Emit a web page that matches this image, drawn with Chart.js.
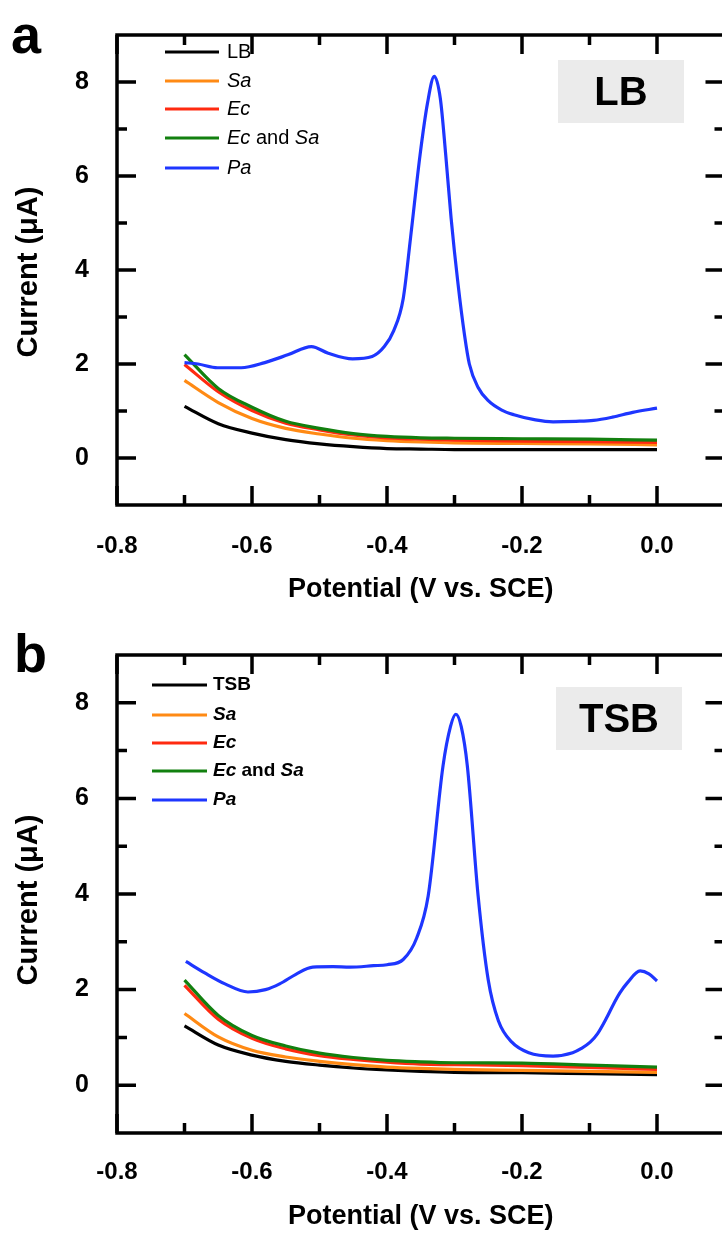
<!DOCTYPE html>
<html>
<head>
<meta charset="utf-8">
<script src="https://cdn.jsdelivr.net/npm/chart.js@4.4.0/dist/chart.umd.min.js"></script>
<style>
  html, body { margin: 0; padding: 0; background: #fff; overflow: hidden; }
  canvas { display: block; }
</style>
</head>
<body>
<canvas id="chartA" width="740" height="620"></canvas>
<canvas id="chartB" width="740" height="614"></canvas>
<script>
// potential (V vs. SCE) and current (uA)
const potBase = [-0.70, -0.65, -0.60, -0.55, -0.50, -0.45, -0.40, -0.35, -0.30, -0.20, -0.10, 0.00];

// panel a: LB medium
const lbBlank = [1.10, 0.73, 0.53, 0.39, 0.30, 0.24, 0.20, 0.19, 0.18, 0.18, 0.18, 0.18];
const lbSa    = [1.65, 1.18, 0.84, 0.63, 0.51, 0.42, 0.37, 0.34, 0.32, 0.31, 0.30, 0.28];
const lbEc    = [1.99, 1.41, 1.01, 0.74, 0.60, 0.49, 0.43, 0.40, 0.38, 0.36, 0.35, 0.33];
const lbEcSa  = [2.20, 1.48, 1.08, 0.78, 0.63, 0.52, 0.46, 0.43, 0.42, 0.41, 0.40, 0.38];
const potPaLB = [-0.700, -0.680, -0.651, -0.616, -0.581, -0.546, -0.512, -0.487, -0.451, -0.422,
                 -0.404, -0.390, -0.376, -0.365, -0.351, -0.340, -0.330, -0.321, -0.313, -0.305,
                 -0.295, -0.285, -0.278, -0.265, -0.250, -0.230, -0.212, -0.180, -0.154, -0.120,
                 -0.094, -0.066, -0.036, 0.000];
const lbPa    = [2.03, 2.00, 1.92, 1.92, 2.03, 2.20, 2.37, 2.23, 2.11, 2.16,
                 2.37, 2.71, 3.39, 4.70, 6.45, 7.55, 8.12, 7.65, 6.45, 5.10,
                 3.73, 2.60, 2.00, 1.50, 1.22, 1.02, 0.92, 0.81, 0.77, 0.78,
                 0.80, 0.87, 0.97, 1.06];

// panel b: TSB medium
const tsbBlank = [1.24, 0.84, 0.63, 0.50, 0.42, 0.36, 0.32, 0.29, 0.27, 0.26, 0.24, 0.22];
const tsbSa    = [1.50, 1.01, 0.73, 0.59, 0.50, 0.43, 0.38, 0.35, 0.33, 0.31, 0.29, 0.27];
const tsbEc    = [2.09, 1.38, 0.98, 0.76, 0.62, 0.54, 0.48, 0.44, 0.43, 0.41, 0.37, 0.33];
const tsbEcSa  = [2.20, 1.46, 1.04, 0.82, 0.67, 0.58, 0.52, 0.49, 0.47, 0.46, 0.42, 0.38];
const potPaTSB = [-0.698, -0.670, -0.640, -0.606, -0.580, -0.559, -0.535, -0.510, -0.480, -0.455,
                  -0.420, -0.400, -0.376, -0.356, -0.339, -0.317, -0.306, -0.298, -0.290, -0.281,
                  -0.265, -0.250, -0.235, -0.215, -0.190, -0.154, -0.125, -0.112, -0.099, -0.088,
                  -0.075, -0.065, -0.055, -0.044, -0.025, -0.012, 0.000];
const tsbPa    = [2.59, 2.35, 2.12, 1.95, 2.00, 2.12, 2.32, 2.47, 2.48, 2.47,
                  2.50, 2.52, 2.63, 3.08, 3.96, 6.68, 7.50, 7.76, 7.50, 6.68,
                  3.96, 2.20, 1.35, 0.90, 0.68, 0.61, 0.68, 0.77, 0.90, 1.08,
                  1.40, 1.68, 1.93, 2.14, 2.39, 2.33, 2.18];

const labelsLB  = ['LB', 'Sa', 'Ec', 'Ec and Sa', 'Pa'];
const labelsTSB = ['TSB', 'Sa', 'Ec', 'Ec and Sa', 'Pa'];
const italicWords = ['Sa', 'Ec', 'Pa'];

const xMajorTicks = [-0.8, -0.6, -0.4, -0.2, 0.0];
const xMinorTicks = [-0.7, -0.5, -0.3, -0.1];
const yMajorTicks = [0, 2, 4, 6, 8];
const yMinorTicks = [1, 3, 5, 7];

const colors = ['#000000', '#ff8a14', '#ff2a10', '#12800f', '#1e36ff'];
const FONT = '"Liberation Sans", Arial, sans-serif';

function toPoints(xs, ys) {
  return xs.map((v, i) => ({ x: v, y: ys[i] }));
}

const framePlugin = {
  id: 'frame',
  afterDatasetsDraw(chart, args, o) {
    const { ctx, chartArea: a, scales: { x, y } } = chart;
    ctx.save();
    ctx.strokeStyle = '#000';
    ctx.lineWidth = 3.5;
    ctx.strokeRect(a.left, a.top, a.right - a.left, a.bottom - a.top);

    // inward ticks on all four sides
    ctx.beginPath();
    const xt = (vals, len) => vals.forEach(v => {
      const p = x.getPixelForValue(v);
      ctx.moveTo(p, a.bottom); ctx.lineTo(p, a.bottom - len);
      ctx.moveTo(p, a.top); ctx.lineTo(p, a.top + len);
    });
    const yt = (vals, len) => vals.forEach(v => {
      const p = y.getPixelForValue(v);
      ctx.moveTo(a.left, p); ctx.lineTo(a.left + len, p);
      ctx.moveTo(a.right, p); ctx.lineTo(a.right - len, p);
    });
    xt(xMajorTicks, 19); xt(xMinorTicks, 10);
    yt(yMajorTicks, 19); yt(yMinorTicks, 10);
    ctx.stroke();

    // legend
    chart.data.datasets.forEach((ds, i) => {
      const ry = o.legend.rows[i];
      ctx.strokeStyle = ds.borderColor;
      ctx.lineWidth = 3;
      ctx.beginPath();
      ctx.moveTo(o.legend.x1, ry); ctx.lineTo(o.legend.x2, ry);
      ctx.stroke();
      let cx = o.legend.tx;
      ctx.fillStyle = '#000';
      ctx.textBaseline = 'middle';
      ctx.textAlign = 'left';
      ds.label.split(' ').forEach(word => {
        const it = italicWords.includes(word);
        ctx.font = (it ? 'italic ' : '') + o.legend.weight + ' ' + o.legend.size + 'px ' + FONT;
        ctx.fillText(word, cx, ry);
        cx += ctx.measureText(word + ' ').width;
      });
    });

    // medium tag
    const b = o.tag;
    ctx.fillStyle = '#ebebeb';
    ctx.fillRect(b.x, b.y, b.w, b.h);
    ctx.fillStyle = '#000';
    ctx.font = 'bold 40px ' + FONT;
    ctx.textAlign = 'center';
    ctx.textBaseline = 'middle';
    ctx.fillText(b.text, b.x + b.w / 2, b.y + b.h / 2 + 2);

    // panel letter
    ctx.font = 'bold 54px ' + FONT;
    ctx.textAlign = 'left';
    ctx.textBaseline = 'alphabetic';
    ctx.fillText(o.letter.text, o.letter.x, o.letter.y);

    // y axis title
    ctx.translate(29, o.yTitleY);
    ctx.rotate(-Math.PI / 2);
    ctx.font = 'bold 29px ' + FONT;
    ctx.textAlign = 'center';
    ctx.textBaseline = 'middle';
    ctx.fillText('Current (\u03BCA)', 0, 0);
    ctx.restore();
  }
};

function makePanel(id, cfg) {
  const names = cfg.labels;
  const datasets = [
    { label: names[0], data: toPoints(potBase, cfg.series[0]) },
    { label: names[1], data: toPoints(potBase, cfg.series[1]) },
    { label: names[2], data: toPoints(potBase, cfg.series[2]) },
    { label: names[3], data: toPoints(potBase, cfg.series[3]) },
    { label: names[4], data: toPoints(cfg.paX, cfg.series[4]) }
  ].map((d, i) => Object.assign(d, {
    borderColor: colors[i],
    backgroundColor: colors[i],
    borderWidth: 3.2,
    pointRadius: 0,
    fill: false,
    cubicInterpolationMode: 'monotone',
    order: 5 - i
  }));

  return new Chart(document.getElementById(id), {
    type: 'line',
    data: { datasets },
    options: {
      responsive: false,
      animation: false,
      devicePixelRatio: 1,
      layout: { padding: { left: 0, right: 15.5, top: cfg.top, bottom: 0 } },
      plugins: {
        legend: { display: false },
        tooltip: { enabled: false },
        frame: cfg.frame
      },
      scales: {
        x: {
          type: 'linear', min: -0.8, max: 0.1,
          grid: { display: false }, border: { display: false },
          afterBuildTicks: s => { s.ticks = xMajorTicks.map(v => ({ value: v })); },
          afterFit: s => { s.height = cfg.height - cfg.bottom; },
          ticks: {
            padding: cfg.tickPad, color: '#000', maxRotation: 0,
            font: { family: FONT, size: 24, weight: 'bold' },
            callback: v => v.toFixed(1)
          },
          title: {
            display: true, text: 'Potential (V vs. SCE)', color: '#000',
            font: { family: FONT, size: 27, weight: 'bold' },
            padding: { top: 0, bottom: cfg.titlePad }
          }
        },
        y: {
          type: 'linear', min: -1, max: 9,
          grid: { display: false }, border: { display: false },
          afterBuildTicks: s => { s.ticks = yMajorTicks.map(v => ({ value: v })); },
          afterFit: s => { s.width = 117; },
          ticks: {
            padding: 20, color: '#000',
            font: { family: FONT, size: 25, weight: 'bold' },
            callback: v => String(v)
          }
        }
      }
    },
    plugins: [framePlugin]
  });
}

makePanel('chartA', {
  labels: labelsLB,
  series: [lbBlank, lbSa, lbEc, lbEcSa, lbPa],
  paX: potPaLB,
  height: 620, top: 15, bottom: 505, tickPad: 19, titlePad: 14,
  frame: {
    legend: { x1: 165, x2: 219, tx: 227, rows: [52, 81, 109, 138, 168], size: 20, weight: 'normal' },
    tag: { x: 558, y: 60, w: 126, h: 63, text: 'LB' },
    letter: { text: 'a', x: 11, y: 53 },
    yTitleY: 272
  }
});

makePanel('chartB', {
  labels: labelsTSB,
  series: [tsbBlank, tsbSa, tsbEc, tsbEcSa, tsbPa],
  paX: potPaTSB,
  height: 614, top: 23, bottom: 513, tickPad: 17, titlePad: 1,
  frame: {
    legend: { x1: 152, x2: 207, tx: 213, rows: [65, 95, 123, 151, 180], size: 19, weight: 'bold' },
    tag: { x: 556, y: 67, w: 126, h: 63, text: 'TSB' },
    letter: { text: 'b', x: 14, y: 52 },
    yTitleY: 280
  }
});
</script>
</body>
</html>
